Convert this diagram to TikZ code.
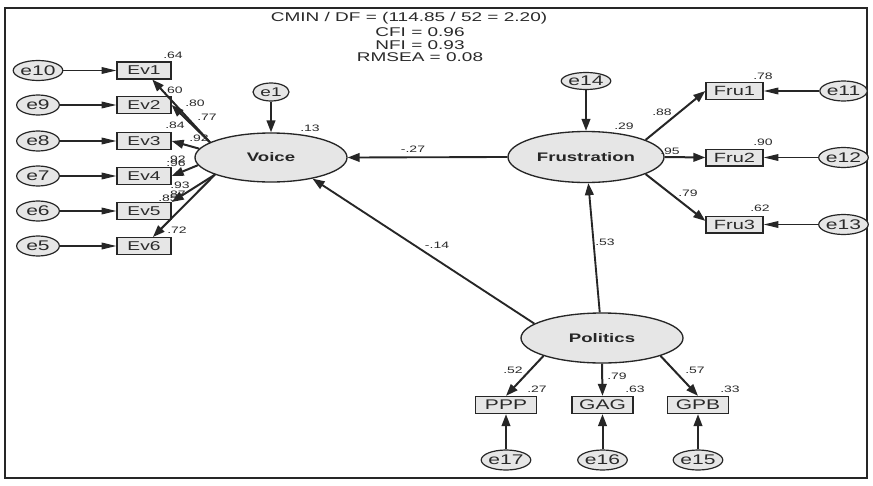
\documentclass[tikz,border=0pt]{standalone}
\usepackage{fontspec}
\setmainfont[FakeStretch=1.5]{Liberation Sans}
\usetikzlibrary{shapes.geometric,arrows.meta,calc}
\definecolor{lc}{HTML}{262626}
\definecolor{fc}{HTML}{E6E6E6}
\definecolor{tc}{HTML}{2A2A2A}
\tikzset{
  err/.style={ellipse, draw=lc, fill=fc, line width=0.9pt, minimum width=32pt, minimum height=15pt, inner sep=0pt, text=tc, font=\fontsize{10.5}{12}\selectfont},
  obs/.style={rectangle, draw=lc, fill=fc, line width=1pt, minimum height=12.5pt, inner sep=0pt, text=tc},
  lat/.style={ellipse, draw=lc, fill=fc, line width=1pt, inner sep=0pt, text=lc, font=\bfseries\fontsize{9.3}{11}\selectfont},
  lbl/.style={font=\fontsize{7}{8}\selectfont, text=tc, inner sep=0pt},
  hdr/.style={font=\fontsize{9.5}{11}\selectfont, text=tc, inner sep=0pt},
  errarr/.style={line width=0.9pt, draw=lc, -{Triangle[length=11pt,width=5pt]}},
  loadarr/.style={line width=1.5pt, draw=lc, -{Triangle[length=9pt,width=6.5pt]}},
  patharr/.style={line width=1.4pt, draw=lc, -{Triangle[length=9pt,width=6.5pt]}},
}
\begin{document}
\begin{tikzpicture}[x=0.75pt,y=-0.75pt]
\useasboundingbox (0,0) rectangle (873,485);
\fill[white] (0,0) rectangle (873,485);
\draw[line width=0.9pt, draw=lc] (5,8) rectangle (867,478);

% header
\node[hdr] (h1) at (409,18) {CMIN / DF = (114.85 / 52 = 2.20)};
\node[hdr] (h2) at (420,32) {CFI = 0.96};
\node[hdr] (h3) at (420,45) {NFI = 0.93};
\node[hdr] (h4) at (420,57) {RMSEA = 0.08};

% Voice side
\foreach \n/\y/\m in {10/70.5/1, 9/105/2, 8/141/3, 7/176/4, 6/211/5, 5/246/6}{
  \node[err] (e\n) at (38,\y) {e\n};
  \node[obs, minimum width=40.5pt, font=\fontsize{9.6}{11}\selectfont] (ev\m) at (144,\y) {Ev\m};
  \draw[errarr] (e\n) -- (ev\m);
}
\node[lat, minimum width=114pt, minimum height=36.75pt] (voice) at (271,157.5) {Voice};
\node[err, minimum width=27pt, minimum height=13.5pt, font=\fontsize{9.5}{11}\selectfont] (e1) at (271,92) {e1};
\draw[loadarr] (e1) -- (voice.north);

\draw[loadarr] (voice.166) -- (ev1);
\draw[loadarr] (voice.166) -- (ev2.east);
\draw[loadarr] (voice.173) -- (ev3.east);
\draw[loadarr] (voice.186) -- (ev4.east);
\draw[loadarr] (voice.197) -- (ev5.north east);
\draw[loadarr] (voice.197) -- (ev6);

% Frustration side
\node[lat, minimum width=117pt, minimum height=38.25pt] (frust) at (586,157) {Frustration};
\node[err, minimum width=31.5pt, minimum height=12.75pt] (e14) at (586,81) {e14};
\draw[loadarr] (e14) -- (frust.north);
\foreach \m/\y/\n in {1/91/11, 2/157.5/12, 3/224.5/13}{
  \node[obs, minimum width=42.75pt, font=\fontsize{10}{12}\selectfont] (fru\m) at (734.5,\y) {Fru\m};
  \node[err] (e\n) at (843.5,\y) {e\n};
  \draw[errarr] (e\n) -- (fru\m);
}
\draw[loadarr] (frust.16) -- (fru1.west);
\draw[loadarr] (frust.east) -- (fru2.west);
\draw[loadarr] (frust.344) -- ($(fru3.west)!0.4!(fru3.north west)$);

% Politics
\node[lat, minimum width=121.5pt, minimum height=37.5pt] (politics) at (602,338) {Politics};
\foreach \b/\x/\n in {ppp/506/17, gag/602.5/16, gpb/698/15}{
  \node[err] (e\n) at (\x,460) {e\n};
}
\node[obs, minimum width=45.75pt, minimum height=12.75pt, font=\fontsize{10.5}{12}\selectfont] (ppp) at (506,405) {PPP};
\node[obs, minimum width=45.75pt, minimum height=12.75pt, font=\fontsize{10.5}{12}\selectfont] (gag) at (602.5,405) {GAG};
\node[obs, minimum width=45.75pt, minimum height=12.75pt, font=\fontsize{10.5}{12}\selectfont] (gpb) at (698,405) {GPB};
\draw[loadarr] (e17) -- (ppp);
\draw[loadarr] (e16) -- (gag);
\draw[loadarr] (e15) -- (gpb);
\draw[loadarr] (politics.197) -- (ppp.north);
\draw[loadarr] (politics.south) -- (gag.north);
\draw[loadarr] (politics.343) -- (gpb.north);

% structural paths
\draw[patharr] (frust.west) -- (voice.east);
\draw[patharr] (politics.168) -- (voice.333);
\draw[patharr] (politics) -- (frust);

% labels
\node[lbl] (l64) at (173,55) {.64};
\node[lbl] (l60) at (173,90) {.60};
\node[lbl] (l80) at (195,103) {.80};
\node[lbl] (l77) at (207,117) {.77};
\node[lbl] (l84) at (175,125) {.84};
\node[lbl] (l92a) at (199,138) {.92};
\node[lbl] (l92b) at (176,159) {.92};
\node[lbl] (l96) at (176,163.5) {.96};
\node[lbl] (l93) at (180,185) {.93};
\node[lbl] (l87) at (176,194) {.87};
\node[lbl] (l85) at (168,198.5) {.85};
\node[lbl] (l72) at (177,230) {.72};
\node[lbl] (l13) at (310,128) {.13};
\node[lbl] (l27) at (413,149) {-.27};
\node[lbl] (l14) at (437,245) {-.14};
\node[lbl] (l53) at (605,242) {.53};
\node[lbl] (l29) at (624,126) {.29};
\node[lbl] (l88) at (662,112) {.88};
\node[lbl] (l95) at (670,151) {.95};
\node[lbl] (l79a) at (688,193) {.79};
\node[lbl] (l78) at (763,76) {.78};
\node[lbl] (l90) at (763,142) {.90};
\node[lbl] (l62) at (760,208) {.62};
\node[lbl] (l52) at (513,370) {.52};
\node[lbl] (l27b) at (537,389) {.27};
\node[lbl] (l79b) at (617,376) {.79};
\node[lbl] (l63) at (635,389) {.63};
\node[lbl] (l57) at (695,370) {.57};
\node[lbl] (l33) at (730,389) {.33};
\end{tikzpicture}
\end{document}
